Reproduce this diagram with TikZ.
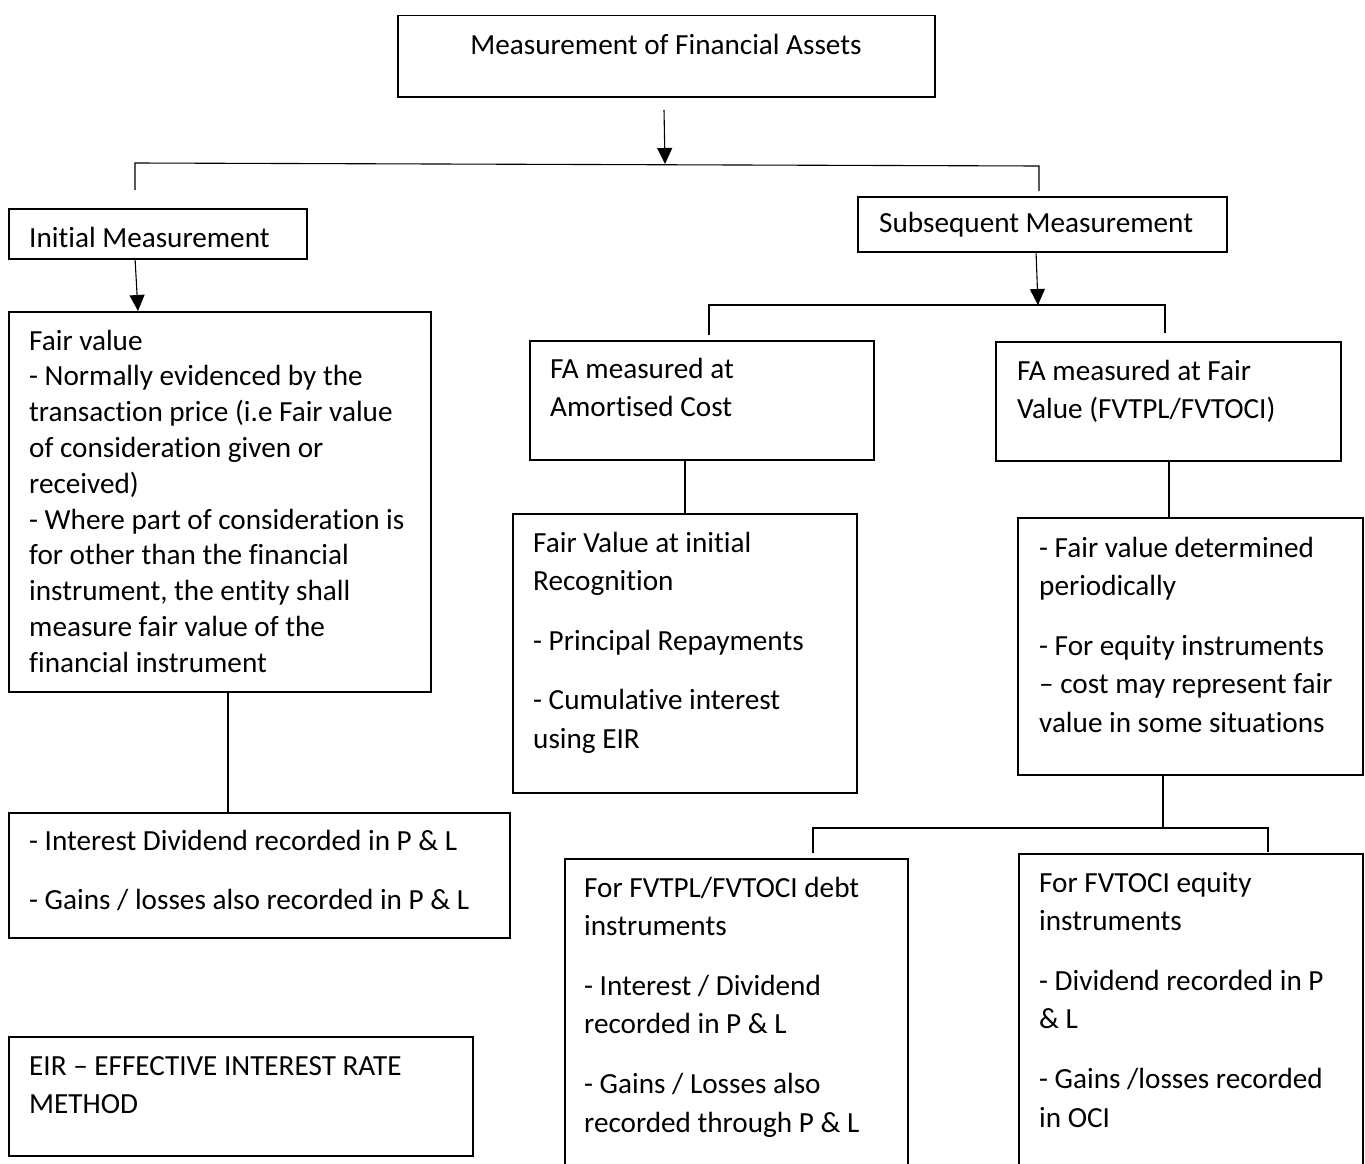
\documentclass[tikz,border=0pt]{standalone}
\usepackage{fontspec}
\setmainfont{Carlito}[Ligatures={TeX,NoCommon}]
\usetikzlibrary{arrows.meta}
\newcommand\mytxt[1]{\parbox[t]{520pt}{\raggedright #1}}
\tikzset{
  box/.style={draw, line width=1.5pt, inner sep=0pt, anchor=north west},
  txt/.style={inner sep=0pt, anchor=base west, font=\fontsize{29.2}{38.6}\selectfont},
  conn/.style={line width=1.1pt},
  arr/.style={line width=1.1pt, -{Triangle[width=15pt,length=16pt]}}
}
\begin{document}
\begin{tikzpicture}[x=1pt,y=-1pt]
\useasboundingbox[fill=white] (0,0) rectangle (1365,1164);
\clip (0,0) rectangle (1365,1164);
% boxes
\node[box, minimum width=537pt, minimum height=81pt]  (top)    at (397,15)  {};
\node[box, minimum width=298pt, minimum height=50pt]  (init)   at (8,208)   {};
\node[box, minimum width=422pt, minimum height=380pt] (fv)     at (8,311)   {};
\node[box, minimum width=501pt, minimum height=125pt] (intdiv) at (8,812)   {};
\node[box, minimum width=464pt, minimum height=119pt] (eir)    at (8,1036)  {};
\node[box, minimum width=369pt, minimum height=55pt]  (subs)   at (857,196) {};
\node[box, minimum width=344pt, minimum height=119pt] (amort)  at (529,340) {};
\node[box, minimum width=344pt, minimum height=279pt] (fvinit) at (512,513) {};
\node[box, minimum width=345pt, minimum height=119pt] (fafv)   at (995,341) {};
\node[box, minimum width=345pt, minimum height=257pt] (fvdet)  at (1017,517) {};
\node[box, minimum width=343pt, minimum height=340pt] (debt)   at (564,858) {};
\node[box, minimum width=344pt, minimum height=345pt] (equity) at (1018,853) {};
% texts
\node[txt, anchor=base] (topT) at (666,55) {Measurement of Financial Assets};
\node[txt] (initT) at (29,247) {Initial Measurement};
\node[txt, font=\fontsize{29.2}{35.8}\selectfont] (fvT) at (29,350) {\mytxt{Fair value\\
- Normally evidenced by the\\
transaction price (i.e Fair value\\
of consideration given or\\
received)\\
- Where part of consideration is\\
for other than the financial\\
instrument, the entity shall\\
measure fair value of the\\
financial instrument}};
\node[txt] (intdivT) at (29,850) {\mytxt{- Interest Dividend recorded in P \& L\\[21pt]
- Gains / losses also recorded in P \& L}};
\node[txt] (eirT) at (29,1075) {\mytxt{EIR – EFFECTIVE INTEREST RATE\\
METHOD}};
\node[txt] (subsT) at (879,232) {Subsequent Measurement};
\node[txt] (amortT) at (550,378) {\mytxt{FA measured at\\
Amortised Cost}};
\node[txt] (fafvT) at (1017,380) {\mytxt{FA measured at Fair\\
Value (FVTPL/FVTOCI)}};
\node[txt] (fvinitT) at (533,552) {\mytxt{Fair Value at initial\\
Recognition\\[21pt]
- Principal Repayments\\[21pt]
- Cumulative interest\\
using EIR}};
\node[txt] (fvdetT) at (1039,557) {\mytxt{- Fair value determined\\
periodically\\[21pt]
- For equity instruments\\
– cost may represent fair\\
value in some situations}};
\node[txt] (debtT) at (584,897) {\mytxt{For FVTPL/FVTOCI debt\\
instruments\\[21pt]
- Interest / Dividend\\
recorded in P \& L\\[21pt]
- Gains / Losses also\\
recorded through P \& L}};
\node[txt] (equityT) at (1039,892) {\mytxt{For FVTOCI equity\\
instruments\\[21pt]
- Dividend recorded in P\\
\& L\\[21pt]
- Gains /losses recorded\\
in OCI}};
% connector coordinates
\coordinate (a1s) at (664,110);
\coordinate (a1e) at (665,164);
\coordinate (b1l) at (135,190);
\coordinate (b1lt) at (135,163);
\coordinate (b1rt) at (1039,166);
\coordinate (b1r) at (1039,191);
\coordinate (a2s) at (135,258);
\coordinate (a2e) at (138,311);
\coordinate (cx1) at (228,0);
\coordinate (a3s) at (1036,251);
\coordinate (a3e) at (1038,305);
\coordinate (b2l) at (709,335);
\coordinate (b2lt) at (709,305);
\coordinate (b2rt) at (1165,305);
\coordinate (b2r) at (1165,333);
\coordinate (cx2) at (685,0);
\coordinate (cx3) at (1169,0);
\coordinate (cx4) at (1163,0);
\coordinate (b3c) at (1163,828);
\coordinate (b3l) at (813,853);
\coordinate (b3lt) at (813,828);
\coordinate (b3rt) at (1268,828);
\coordinate (b3r) at (1268,852);
% connectors
\draw[arr] (a1s) -- (a1e);
\draw[conn] (b1l) -- (b1lt) -- (b1rt) -- (b1r);
\draw[arr] (a2s) -- (a2e);
\draw[conn] (fv.south -| cx1) -- (intdiv.north -| cx1);
\draw[arr] (a3s) -- (a3e);
\draw[conn] (b2l) -- (b2lt) -- (b2rt) -- (b2r);
\draw[conn] (amort.south -| cx2) -- (fvinit.north -| cx2);
\draw[conn] (fafv.south -| cx3) -- (fvdet.north -| cx3);
\draw[conn] (fvdet.south -| cx4) -- (b3c);
\draw[conn] (b3l) -- (b3lt) -- (b3rt) -- (b3r);
\end{tikzpicture}
\end{document}
